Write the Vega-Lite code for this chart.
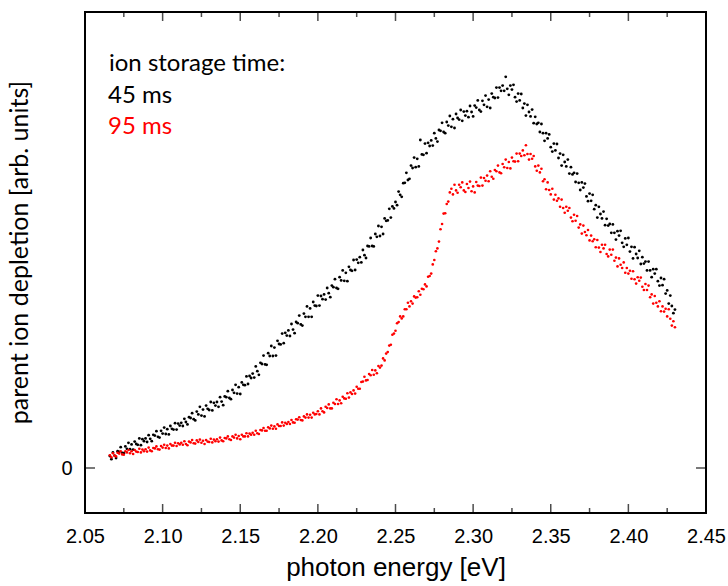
{
  "$schema": "https://vega.github.io/schema/vega-lite/v6.json",
  "width": 621,
  "height": 501,
  "autosize": {"type": "none"},
  "padding": {"left": 85, "top": 12, "right": 22, "bottom": 73},
  "background": "white",
  "config": {
    "view": {"stroke": "black", "strokeWidth": 2},
    "axis": {"domain": false, "grid": false, "ticks": false, "labelColor": "black", "titleColor": "black"}
  },
  "datasets": {
    "xt": [
      {"v":2.05,"kind":"major"},{"v":2.075,"kind":"minor"},{"v":2.1,"kind":"major"},{"v":2.125,"kind":"minor"},{"v":2.15,"kind":"major"},{"v":2.175,"kind":"minor"},
      {"v":2.2,"kind":"major"},{"v":2.225,"kind":"minor"},{"v":2.25,"kind":"major"},{"v":2.275,"kind":"minor"},{"v":2.3,"kind":"major"},{"v":2.325,"kind":"minor"},
      {"v":2.35,"kind":"major"},{"v":2.375,"kind":"minor"},{"v":2.4,"kind":"major"},{"v":2.425,"kind":"minor"},{"v":2.45,"kind":"major"}
    ],
    "yt": [{"v":0}],
    "d45": [
      {"x":2.066,"y":0.030},{"x":2.067,"y":0.022},{"x":2.068,"y":0.039},{"x":2.069,"y":0.031},{"x":2.070,"y":0.025},{"x":2.071,"y":0.042},{"x":2.072,"y":0.040},{"x":2.073,"y":0.052},{"x":2.074,"y":0.038},{"x":2.075,"y":0.037},
      {"x":2.076,"y":0.054},{"x":2.077,"y":0.048},{"x":2.078,"y":0.063},{"x":2.079,"y":0.047},{"x":2.080,"y":0.059},{"x":2.081,"y":0.046},{"x":2.082,"y":0.066},{"x":2.083,"y":0.060},{"x":2.084,"y":0.058},{"x":2.085,"y":0.074},
      {"x":2.086,"y":0.057},{"x":2.087,"y":0.072},{"x":2.088,"y":0.067},{"x":2.089,"y":0.074},{"x":2.090,"y":0.065},{"x":2.091,"y":0.082},{"x":2.092,"y":0.073},{"x":2.093,"y":0.067},{"x":2.094,"y":0.083},{"x":2.095,"y":0.081},
      {"x":2.096,"y":0.092},{"x":2.097,"y":0.078},{"x":2.098,"y":0.076},{"x":2.099,"y":0.093},{"x":2.100,"y":0.086},{"x":2.101,"y":0.101},{"x":2.102,"y":0.085},{"x":2.103,"y":0.097},{"x":2.104,"y":0.084},{"x":2.105,"y":0.105},
      {"x":2.106,"y":0.098},{"x":2.107,"y":0.096},{"x":2.108,"y":0.112},{"x":2.109,"y":0.096},{"x":2.110,"y":0.111},{"x":2.111,"y":0.106},{"x":2.112,"y":0.113},{"x":2.113,"y":0.105},{"x":2.114,"y":0.123},{"x":2.115,"y":0.115},
      {"x":2.116,"y":0.109},{"x":2.117,"y":0.127},{"x":2.118,"y":0.125},{"x":2.119,"y":0.137},{"x":2.120,"y":0.122},{"x":2.121,"y":0.119},{"x":2.122,"y":0.141},{"x":2.123,"y":0.134},{"x":2.124,"y":0.153},{"x":2.125,"y":0.131},
      {"x":2.126,"y":0.146},{"x":2.127,"y":0.129},{"x":2.128,"y":0.156},{"x":2.129,"y":0.148},{"x":2.130,"y":0.145},{"x":2.131,"y":0.165},{"x":2.132,"y":0.144},{"x":2.133,"y":0.163},{"x":2.134,"y":0.156},{"x":2.135,"y":0.165},
      {"x":2.136,"y":0.153},{"x":2.137,"y":0.177},{"x":2.138,"y":0.166},{"x":2.139,"y":0.157},{"x":2.140,"y":0.179},{"x":2.141,"y":0.177},{"x":2.142,"y":0.192},{"x":2.143,"y":0.175},{"x":2.144,"y":0.172},{"x":2.145,"y":0.195},
      {"x":2.146,"y":0.188},{"x":2.147,"y":0.208},{"x":2.148,"y":0.186},{"x":2.149,"y":0.202},{"x":2.150,"y":0.185},{"x":2.151,"y":0.214},{"x":2.152,"y":0.208},{"x":2.153,"y":0.207},{"x":2.154,"y":0.229},{"x":2.155,"y":0.210},
      {"x":2.156,"y":0.230},{"x":2.157,"y":0.225},{"x":2.158,"y":0.236},{"x":2.159,"y":0.226},{"x":2.160,"y":0.254},{"x":2.161,"y":0.242},{"x":2.162,"y":0.233},{"x":2.163,"y":0.263},{"x":2.164,"y":0.260},{"x":2.165,"y":0.281},
      {"x":2.166,"y":0.259},{"x":2.167,"y":0.258},{"x":2.168,"y":0.287},{"x":2.169,"y":0.280},{"x":2.170,"y":0.305},{"x":2.171,"y":0.280},{"x":2.172,"y":0.301},{"x":2.173,"y":0.281},{"x":2.174,"y":0.318},{"x":2.175,"y":0.310},
      {"x":2.176,"y":0.309},{"x":2.177,"y":0.336},{"x":2.178,"y":0.312},{"x":2.179,"y":0.338},{"x":2.180,"y":0.331},{"x":2.181,"y":0.344},{"x":2.182,"y":0.330},{"x":2.183,"y":0.360},{"x":2.184,"y":0.346},{"x":2.185,"y":0.337},
      {"x":2.186,"y":0.365},{"x":2.187,"y":0.362},{"x":2.188,"y":0.381},{"x":2.189,"y":0.359},{"x":2.190,"y":0.356},{"x":2.191,"y":0.386},{"x":2.192,"y":0.378},{"x":2.193,"y":0.404},{"x":2.194,"y":0.378},{"x":2.195,"y":0.399},
      {"x":2.196,"y":0.378},{"x":2.197,"y":0.415},{"x":2.198,"y":0.406},{"x":2.199,"y":0.405},{"x":2.200,"y":0.431},{"x":2.201,"y":0.406},{"x":2.202,"y":0.430},{"x":2.203,"y":0.422},{"x":2.204,"y":0.434},{"x":2.205,"y":0.421},
      {"x":2.206,"y":0.450},{"x":2.207,"y":0.437},{"x":2.208,"y":0.427},{"x":2.209,"y":0.456},{"x":2.210,"y":0.452},{"x":2.211,"y":0.472},{"x":2.212,"y":0.450},{"x":2.213,"y":0.448},{"x":2.214,"y":0.477},{"x":2.215,"y":0.469},
      {"x":2.216,"y":0.494},{"x":2.217,"y":0.468},{"x":2.218,"y":0.488},{"x":2.219,"y":0.467},{"x":2.220,"y":0.503},{"x":2.221,"y":0.495},{"x":2.222,"y":0.493},{"x":2.223,"y":0.520},{"x":2.224,"y":0.495},{"x":2.225,"y":0.521},
      {"x":2.226,"y":0.513},{"x":2.227,"y":0.527},{"x":2.228,"y":0.514},{"x":2.229,"y":0.545},{"x":2.230,"y":0.532},{"x":2.231,"y":0.525},{"x":2.232,"y":0.555},{"x":2.233,"y":0.554},{"x":2.234,"y":0.575},{"x":2.235,"y":0.555},
      {"x":2.236,"y":0.554},{"x":2.237,"y":0.585},{"x":2.238,"y":0.578},{"x":2.239,"y":0.605},{"x":2.240,"y":0.580},{"x":2.241,"y":0.603},{"x":2.242,"y":0.585},{"x":2.243,"y":0.624},{"x":2.244,"y":0.618},{"x":2.245,"y":0.619},
      {"x":2.246,"y":0.648},{"x":2.247,"y":0.626},{"x":2.248,"y":0.654},{"x":2.249,"y":0.649},{"x":2.250,"y":0.665},{"x":2.251,"y":0.657},{"x":2.252,"y":0.691},{"x":2.253,"y":0.683},{"x":2.254,"y":0.678},{"x":2.255,"y":0.712},
      {"x":2.256,"y":0.713},{"x":2.257,"y":0.738},{"x":2.258,"y":0.720},{"x":2.259,"y":0.723},{"x":2.260,"y":0.756},{"x":2.261,"y":0.750},{"x":2.262,"y":0.776},{"x":2.263,"y":0.752},{"x":2.264,"y":0.773},{"x":2.265,"y":0.754},
      {"x":2.266,"y":0.820},{"x":2.267,"y":0.784},{"x":2.268,"y":0.783},{"x":2.269,"y":0.811},{"x":2.270,"y":0.787},{"x":2.271,"y":0.813},{"x":2.272,"y":0.805},{"x":2.273,"y":0.819},{"x":2.274,"y":0.806},{"x":2.275,"y":0.837},
      {"x":2.276,"y":0.824},{"x":2.277,"y":0.816},{"x":2.278,"y":0.845},{"x":2.279,"y":0.843},{"x":2.280,"y":0.863},{"x":2.281,"y":0.840},{"x":2.282,"y":0.837},{"x":2.283,"y":0.865},{"x":2.284,"y":0.856},{"x":2.285,"y":0.880},
      {"x":2.286,"y":0.853},{"x":2.287,"y":0.872},{"x":2.288,"y":0.850},{"x":2.289,"y":0.885},{"x":2.290,"y":0.875},{"x":2.291,"y":0.871},{"x":2.292,"y":0.895},{"x":2.293,"y":0.868},{"x":2.294,"y":0.891},{"x":2.295,"y":0.881},
      {"x":2.296,"y":0.892},{"x":2.297,"y":0.877},{"x":2.298,"y":0.905},{"x":2.299,"y":0.890},{"x":2.300,"y":0.879},{"x":2.301,"y":0.906},{"x":2.302,"y":0.901},{"x":2.303,"y":0.919},{"x":2.304,"y":0.895},{"x":2.305,"y":0.891},
      {"x":2.306,"y":0.918},{"x":2.307,"y":0.908},{"x":2.308,"y":0.931},{"x":2.309,"y":0.903},{"x":2.310,"y":0.921},{"x":2.311,"y":0.900},{"x":2.312,"y":0.936},{"x":2.313,"y":0.927},{"x":2.314,"y":0.925},{"x":2.315,"y":0.951},
      {"x":2.316,"y":0.926},{"x":2.317,"y":0.951},{"x":2.318,"y":0.943},{"x":2.319,"y":0.956},{"x":2.320,"y":0.943},{"x":2.321,"y":0.978},{"x":2.322,"y":0.948},{"x":2.323,"y":0.933},{"x":2.324,"y":0.956},{"x":2.325,"y":0.946},
      {"x":2.326,"y":0.958},{"x":2.327,"y":0.927},{"x":2.328,"y":0.916},{"x":2.329,"y":0.936},{"x":2.330,"y":0.919},{"x":2.331,"y":0.935},{"x":2.332,"y":0.900},{"x":2.333,"y":0.911},{"x":2.334,"y":0.881},{"x":2.335,"y":0.908},
      {"x":2.336,"y":0.890},{"x":2.337,"y":0.879},{"x":2.338,"y":0.896},{"x":2.339,"y":0.862},{"x":2.340,"y":0.878},{"x":2.341,"y":0.860},{"x":2.342,"y":0.863},{"x":2.343,"y":0.840},{"x":2.344,"y":0.860},{"x":2.345,"y":0.837},
      {"x":2.346,"y":0.818},{"x":2.347,"y":0.837},{"x":2.348,"y":0.824},{"x":2.349,"y":0.834},{"x":2.350,"y":0.802},{"x":2.351,"y":0.791},{"x":2.352,"y":0.811},{"x":2.353,"y":0.794},{"x":2.354,"y":0.810},{"x":2.355,"y":0.775},
      {"x":2.356,"y":0.786},{"x":2.357,"y":0.756},{"x":2.358,"y":0.783},{"x":2.359,"y":0.765},{"x":2.360,"y":0.754},{"x":2.361,"y":0.771},{"x":2.362,"y":0.736},{"x":2.363,"y":0.752},{"x":2.364,"y":0.734},{"x":2.365,"y":0.738},
      {"x":2.366,"y":0.715},{"x":2.367,"y":0.736},{"x":2.368,"y":0.713},{"x":2.369,"y":0.695},{"x":2.370,"y":0.714},{"x":2.371,"y":0.701},{"x":2.372,"y":0.711},{"x":2.373,"y":0.679},{"x":2.374,"y":0.667},{"x":2.375,"y":0.686},
      {"x":2.376,"y":0.668},{"x":2.377,"y":0.683},{"x":2.378,"y":0.647},{"x":2.379,"y":0.657},{"x":2.380,"y":0.626},{"x":2.381,"y":0.653},{"x":2.382,"y":0.635},{"x":2.383,"y":0.624},{"x":2.384,"y":0.641},{"x":2.385,"y":0.607},
      {"x":2.386,"y":0.623},{"x":2.387,"y":0.606},{"x":2.388,"y":0.610},{"x":2.389,"y":0.588},{"x":2.390,"y":0.609},{"x":2.391,"y":0.588},{"x":2.392,"y":0.571},{"x":2.393,"y":0.592},{"x":2.394,"y":0.581},{"x":2.395,"y":0.593},
      {"x":2.396,"y":0.563},{"x":2.397,"y":0.553},{"x":2.398,"y":0.574},{"x":2.399,"y":0.558},{"x":2.400,"y":0.575},{"x":2.401,"y":0.541},{"x":2.402,"y":0.553},{"x":2.403,"y":0.524},{"x":2.404,"y":0.552},{"x":2.405,"y":0.535},
      {"x":2.406,"y":0.525},{"x":2.407,"y":0.543},{"x":2.408,"y":0.510},{"x":2.409,"y":0.527},{"x":2.410,"y":0.511},{"x":2.411,"y":0.516},{"x":2.412,"y":0.494},{"x":2.413,"y":0.516},{"x":2.414,"y":0.494},{"x":2.415,"y":0.477},
      {"x":2.416,"y":0.497},{"x":2.417,"y":0.486},{"x":2.418,"y":0.497},{"x":2.419,"y":0.467},{"x":2.420,"y":0.456},{"x":2.421,"y":0.475},{"x":2.422,"y":0.457},{"x":2.423,"y":0.472},{"x":2.424,"y":0.436},{"x":2.425,"y":0.444},
      {"x":2.426,"y":0.411},{"x":2.427,"y":0.431},{"x":2.428,"y":0.405},{"x":2.429,"y":0.387},{"x":2.430,"y":0.396}
    ],
    "d95": [
      {"x":2.066,"y":0.032},{"x":2.067,"y":0.027},{"x":2.068,"y":0.037},{"x":2.069,"y":0.031},{"x":2.070,"y":0.029},{"x":2.071,"y":0.038},{"x":2.072,"y":0.036},{"x":2.073,"y":0.042},{"x":2.074,"y":0.034},{"x":2.075,"y":0.033},
      {"x":2.076,"y":0.042},{"x":2.077,"y":0.039},{"x":2.078,"y":0.045},{"x":2.079,"y":0.037},{"x":2.080,"y":0.042},{"x":2.081,"y":0.035},{"x":2.082,"y":0.045},{"x":2.083,"y":0.041},{"x":2.084,"y":0.040},{"x":2.085,"y":0.048},
      {"x":2.086,"y":0.039},{"x":2.087,"y":0.046},{"x":2.088,"y":0.042},{"x":2.089,"y":0.047},{"x":2.090,"y":0.041},{"x":2.091,"y":0.051},{"x":2.092,"y":0.044},{"x":2.093,"y":0.042},{"x":2.094,"y":0.050},{"x":2.095,"y":0.049},
      {"x":2.096,"y":0.054},{"x":2.097,"y":0.047},{"x":2.098,"y":0.046},{"x":2.099,"y":0.055},{"x":2.100,"y":0.051},{"x":2.101,"y":0.058},{"x":2.102,"y":0.050},{"x":2.103,"y":0.056},{"x":2.104,"y":0.049},{"x":2.105,"y":0.060},
      {"x":2.106,"y":0.056},{"x":2.107,"y":0.056},{"x":2.108,"y":0.063},{"x":2.109,"y":0.055},{"x":2.110,"y":0.062},{"x":2.111,"y":0.059},{"x":2.112,"y":0.063},{"x":2.113,"y":0.058},{"x":2.114,"y":0.067},{"x":2.115,"y":0.060},
      {"x":2.116,"y":0.057},{"x":2.117,"y":0.066},{"x":2.118,"y":0.064},{"x":2.119,"y":0.070},{"x":2.120,"y":0.062},{"x":2.121,"y":0.061},{"x":2.122,"y":0.069},{"x":2.123,"y":0.065},{"x":2.124,"y":0.071},{"x":2.125,"y":0.063},
      {"x":2.126,"y":0.068},{"x":2.127,"y":0.060},{"x":2.128,"y":0.070},{"x":2.129,"y":0.066},{"x":2.130,"y":0.065},{"x":2.131,"y":0.073},{"x":2.132,"y":0.064},{"x":2.133,"y":0.071},{"x":2.134,"y":0.067},{"x":2.135,"y":0.072},
      {"x":2.136,"y":0.066},{"x":2.137,"y":0.076},{"x":2.138,"y":0.069},{"x":2.139,"y":0.067},{"x":2.140,"y":0.075},{"x":2.141,"y":0.074},{"x":2.142,"y":0.079},{"x":2.143,"y":0.072},{"x":2.144,"y":0.070},{"x":2.145,"y":0.079},
      {"x":2.146,"y":0.076},{"x":2.147,"y":0.083},{"x":2.148,"y":0.074},{"x":2.149,"y":0.080},{"x":2.150,"y":0.072},{"x":2.151,"y":0.083},{"x":2.152,"y":0.079},{"x":2.153,"y":0.079},{"x":2.154,"y":0.087},{"x":2.155,"y":0.079},
      {"x":2.156,"y":0.086},{"x":2.157,"y":0.083},{"x":2.158,"y":0.088},{"x":2.159,"y":0.083},{"x":2.160,"y":0.093},{"x":2.161,"y":0.087},{"x":2.162,"y":0.085},{"x":2.163,"y":0.095},{"x":2.164,"y":0.094},{"x":2.165,"y":0.100},
      {"x":2.166,"y":0.093},{"x":2.167,"y":0.093},{"x":2.168,"y":0.102},{"x":2.169,"y":0.099},{"x":2.170,"y":0.106},{"x":2.171,"y":0.098},{"x":2.172,"y":0.104},{"x":2.173,"y":0.098},{"x":2.174,"y":0.109},{"x":2.175,"y":0.105},
      {"x":2.176,"y":0.105},{"x":2.177,"y":0.114},{"x":2.178,"y":0.106},{"x":2.179,"y":0.113},{"x":2.180,"y":0.110},{"x":2.181,"y":0.115},{"x":2.182,"y":0.110},{"x":2.183,"y":0.120},{"x":2.184,"y":0.114},{"x":2.185,"y":0.113},
      {"x":2.186,"y":0.122},{"x":2.187,"y":0.121},{"x":2.188,"y":0.127},{"x":2.189,"y":0.120},{"x":2.190,"y":0.119},{"x":2.191,"y":0.129},{"x":2.192,"y":0.126},{"x":2.193,"y":0.134},{"x":2.194,"y":0.126},{"x":2.195,"y":0.133},
      {"x":2.196,"y":0.126},{"x":2.197,"y":0.138},{"x":2.198,"y":0.134},{"x":2.199,"y":0.135},{"x":2.200,"y":0.142},{"x":2.201,"y":0.134},{"x":2.202,"y":0.149},{"x":2.203,"y":0.142},{"x":2.204,"y":0.139},{"x":2.205,"y":0.153},
      {"x":2.206,"y":0.150},{"x":2.207,"y":0.159},{"x":2.208,"y":0.149},{"x":2.209,"y":0.149},{"x":2.210,"y":0.163},{"x":2.211,"y":0.160},{"x":2.212,"y":0.172},{"x":2.213,"y":0.160},{"x":2.214,"y":0.169},{"x":2.215,"y":0.162},
      {"x":2.216,"y":0.178},{"x":2.217,"y":0.174},{"x":2.218,"y":0.173},{"x":2.219,"y":0.187},{"x":2.220,"y":0.176},{"x":2.221,"y":0.189},{"x":2.222,"y":0.185},{"x":2.223,"y":0.194},{"x":2.224,"y":0.186},{"x":2.225,"y":0.203},
      {"x":2.226,"y":0.198},{"x":2.227,"y":0.198},{"x":2.228,"y":0.215},{"x":2.229,"y":0.216},{"x":2.230,"y":0.228},{"x":2.231,"y":0.219},{"x":2.232,"y":0.220},{"x":2.233,"y":0.235},{"x":2.234,"y":0.232},{"x":2.235,"y":0.245},
      {"x":2.236,"y":0.233},{"x":2.237,"y":0.244},{"x":2.238,"y":0.237},{"x":2.239,"y":0.255},{"x":2.240,"y":0.251},{"x":2.241,"y":0.256},{"x":2.242,"y":0.274},{"x":2.243,"y":0.269},{"x":2.244,"y":0.286},{"x":2.245,"y":0.290},
      {"x":2.246,"y":0.306},{"x":2.247,"y":0.308},{"x":2.248,"y":0.333},{"x":2.249,"y":0.336},{"x":2.250,"y":0.343},{"x":2.251,"y":0.362},{"x":2.252,"y":0.365},{"x":2.253,"y":0.379},{"x":2.254,"y":0.374},{"x":2.255,"y":0.379},
      {"x":2.256,"y":0.397},{"x":2.257,"y":0.397},{"x":2.258,"y":0.413},{"x":2.259,"y":0.404},{"x":2.260,"y":0.417},{"x":2.261,"y":0.411},{"x":2.262,"y":0.429},{"x":2.263,"y":0.426},{"x":2.264,"y":0.427},{"x":2.265,"y":0.442},
      {"x":2.266,"y":0.433},{"x":2.267,"y":0.448},{"x":2.268,"y":0.447},{"x":2.269,"y":0.459},{"x":2.270,"y":0.454},{"x":2.271,"y":0.478},{"x":2.272,"y":0.480},{"x":2.273,"y":0.486},{"x":2.274,"y":0.509},{"x":2.275,"y":0.520},
      {"x":2.276,"y":0.542},{"x":2.277,"y":0.549},{"x":2.278,"y":0.566},{"x":2.279,"y":0.597},{"x":2.280,"y":0.610},{"x":2.281,"y":0.636},{"x":2.282,"y":0.637},{"x":2.283,"y":0.660},{"x":2.284,"y":0.666},{"x":2.285,"y":0.689},
      {"x":2.286,"y":0.698},{"x":2.287,"y":0.684},{"x":2.288,"y":0.708},{"x":2.289,"y":0.694},{"x":2.290,"y":0.688},{"x":2.291,"y":0.708},{"x":2.292,"y":0.702},{"x":2.293,"y":0.714},{"x":2.294,"y":0.694},{"x":2.295,"y":0.690},
      {"x":2.296,"y":0.710},{"x":2.297,"y":0.700},{"x":2.298,"y":0.716},{"x":2.299,"y":0.692},{"x":2.300,"y":0.704},{"x":2.301,"y":0.689},{"x":2.302,"y":0.715},{"x":2.303,"y":0.706},{"x":2.304,"y":0.705},{"x":2.305,"y":0.726},
      {"x":2.306,"y":0.706},{"x":2.307,"y":0.725},{"x":2.308,"y":0.718},{"x":2.309,"y":0.731},{"x":2.310,"y":0.717},{"x":2.311,"y":0.742},{"x":2.312,"y":0.728},{"x":2.313,"y":0.723},{"x":2.314,"y":0.745},{"x":2.315,"y":0.742},
      {"x":2.316,"y":0.756},{"x":2.317,"y":0.739},{"x":2.318,"y":0.737},{"x":2.319,"y":0.760},{"x":2.320,"y":0.752},{"x":2.321,"y":0.771},{"x":2.322,"y":0.750},{"x":2.323,"y":0.765},{"x":2.324,"y":0.749},{"x":2.325,"y":0.776},
      {"x":2.326,"y":0.767},{"x":2.327,"y":0.766},{"x":2.328,"y":0.786},{"x":2.329,"y":0.767},{"x":2.330,"y":0.786},{"x":2.331,"y":0.780},{"x":2.332,"y":0.794},{"x":2.333,"y":0.782},{"x":2.334,"y":0.807},{"x":2.335,"y":0.785},
      {"x":2.336,"y":0.771},{"x":2.337,"y":0.785},{"x":2.338,"y":0.773},{"x":2.339,"y":0.780},{"x":2.340,"y":0.754},{"x":2.341,"y":0.743},{"x":2.342,"y":0.756},{"x":2.343,"y":0.739},{"x":2.344,"y":0.748},{"x":2.345,"y":0.717},
      {"x":2.346,"y":0.722},{"x":2.347,"y":0.697},{"x":2.348,"y":0.714},{"x":2.349,"y":0.695},{"x":2.350,"y":0.684},{"x":2.351,"y":0.698},{"x":2.352,"y":0.671},{"x":2.353,"y":0.683},{"x":2.354,"y":0.668},{"x":2.355,"y":0.674},
      {"x":2.356,"y":0.653},{"x":2.357,"y":0.671},{"x":2.358,"y":0.650},{"x":2.359,"y":0.638},{"x":2.360,"y":0.653},{"x":2.361,"y":0.643},{"x":2.362,"y":0.650},{"x":2.363,"y":0.626},{"x":2.364,"y":0.617},{"x":2.365,"y":0.633},
      {"x":2.366,"y":0.618},{"x":2.367,"y":0.630},{"x":2.368,"y":0.601},{"x":2.369,"y":0.609},{"x":2.370,"y":0.586},{"x":2.371,"y":0.606},{"x":2.372,"y":0.590},{"x":2.373,"y":0.582},{"x":2.374,"y":0.595},{"x":2.375,"y":0.569},
      {"x":2.376,"y":0.581},{"x":2.377,"y":0.567},{"x":2.378,"y":0.572},{"x":2.379,"y":0.552},{"x":2.380,"y":0.570},{"x":2.381,"y":0.551},{"x":2.382,"y":0.540},{"x":2.383,"y":0.558},{"x":2.384,"y":0.549},{"x":2.385,"y":0.558},
      {"x":2.386,"y":0.535},{"x":2.387,"y":0.529},{"x":2.388,"y":0.546},{"x":2.389,"y":0.533},{"x":2.390,"y":0.546},{"x":2.391,"y":0.518},{"x":2.392,"y":0.526},{"x":2.393,"y":0.504},{"x":2.394,"y":0.524},{"x":2.395,"y":0.508},
      {"x":2.396,"y":0.500},{"x":2.397,"y":0.514},{"x":2.398,"y":0.488},{"x":2.399,"y":0.500},{"x":2.400,"y":0.486},{"x":2.401,"y":0.493},{"x":2.402,"y":0.473},{"x":2.403,"y":0.492},{"x":2.404,"y":0.472},{"x":2.405,"y":0.461},
      {"x":2.406,"y":0.477},{"x":2.407,"y":0.468},{"x":2.408,"y":0.476},{"x":2.409,"y":0.453},{"x":2.410,"y":0.445},{"x":2.411,"y":0.460},{"x":2.412,"y":0.445},{"x":2.413,"y":0.456},{"x":2.414,"y":0.427},{"x":2.415,"y":0.434},
      {"x":2.416,"y":0.411},{"x":2.417,"y":0.430},{"x":2.418,"y":0.413},{"x":2.419,"y":0.404},{"x":2.420,"y":0.417},{"x":2.421,"y":0.392},{"x":2.422,"y":0.404},{"x":2.423,"y":0.391},{"x":2.424,"y":0.398},{"x":2.425,"y":0.379},
      {"x":2.426,"y":0.397},{"x":2.427,"y":0.373},{"x":2.428,"y":0.356},{"x":2.429,"y":0.367},{"x":2.430,"y":0.352}
    ]
  },
  "layer": [
    {
      "data": {"name": "d45"},
      "mark": {"type": "point", "filled": true, "size": 8, "opacity": 1},
      "encoding": {
        "x": {
          "field": "x", "type": "quantitative",
          "scale": {"domain": [2.05, 2.45], "nice": false, "zero": false},
          "axis": {
            "orient": "bottom",
            "title": "photon energy [eV]",
            "values": [2.05, 2.1, 2.15, 2.2, 2.25, 2.3, 2.35, 2.4, 2.45],
            "format": ".2f",
            "labelPadding": 13,
            "labelFont": "Liberation Sans",
            "labelFontSize": 20,
            "labelFlush": false,
            "labelOverlap": false,
            "titleFont": "Liberation Sans",
            "titleFontSize": 26,
            "titleFontWeight": "normal",
            "titlePadding": 8
          }
        },
        "y": {
          "field": "y", "type": "quantitative",
          "scale": {"domain": [-0.1125, 1.14], "nice": false, "zero": false},
          "axis": {
            "orient": "left",
            "title": "parent ion depletion [arb. units]",
            "values": [0],
            "format": ".0f",
            "labelPadding": 13,
            "labelFont": "Liberation Sans",
            "labelFontSize": 20,
            "titleFont": "Lato",
            "titleFontSize": 25,
            "titleFontWeight": "normal",
            "titlePadding": 28,
            "titleY": 240
          }
        },
        "color": {
          "datum": "45 ms",
          "scale": {"domain": ["45 ms", "95 ms"], "range": ["black", "red"]},
          "legend": {
            "orient": "none",
            "legendX": 24,
            "legendY": 40,
            "title": "ion storage time:",
            "titleFont": "Lato",
            "titleFontSize": 24,
            "titleFontWeight": "normal",
            "titleColor": "black",
            "titlePadding": 8,
            "labelFont": "Lato",
            "labelFontSize": 24,
            "labelOffset": -25,
            "symbolSize": 0,
            "symbolOpacity": 0,
            "symbolStrokeWidth": 0,
            "rowPadding": 7,
            "encode": {"labels": {"update": {"fill": {"signal": "datum.value === '95 ms' ? 'red' : 'black'"}}}}
          }
        }
      }
    },
    {
      "data": {"name": "d95"},
      "mark": {"type": "point", "filled": true, "size": 7, "opacity": 1},
      "encoding": {
        "x": {"field": "x", "type": "quantitative"},
        "y": {"field": "y", "type": "quantitative"},
        "color": {"datum": "95 ms"}
      }
    },
    {
      "data": {"name": "xt"},
      "mark": {"type": "tick", "orient": "vertical", "clip": true, "thickness": 1.5, "color": "black"},
      "encoding": {
        "x": {"field": "v", "type": "quantitative"},
        "y": {"datum": -0.1125, "type": "quantitative"},
        "size": {"condition": {"test": "datum.kind === 'major'", "value": 18}, "value": 10}
      }
    },
    {
      "data": {"name": "xt"},
      "mark": {"type": "tick", "orient": "vertical", "clip": true, "thickness": 1.5, "color": "black"},
      "encoding": {
        "x": {"field": "v", "type": "quantitative"},
        "y": {"datum": 1.14, "type": "quantitative"},
        "size": {"condition": {"test": "datum.kind === 'major'", "value": 18}, "value": 10}
      }
    },
    {
      "data": {"name": "yt"},
      "mark": {"type": "tick", "orient": "horizontal", "clip": true, "thickness": 1.5, "color": "black", "size": 20},
      "encoding": {
        "y": {"field": "v", "type": "quantitative"},
        "x": {"datum": 2.05, "type": "quantitative"}
      }
    },
    {
      "data": {"name": "yt"},
      "mark": {"type": "tick", "orient": "horizontal", "clip": true, "thickness": 1.5, "color": "black", "size": 20},
      "encoding": {
        "y": {"field": "v", "type": "quantitative"},
        "x": {"datum": 2.45, "type": "quantitative"}
      }
    }
  ]
}
